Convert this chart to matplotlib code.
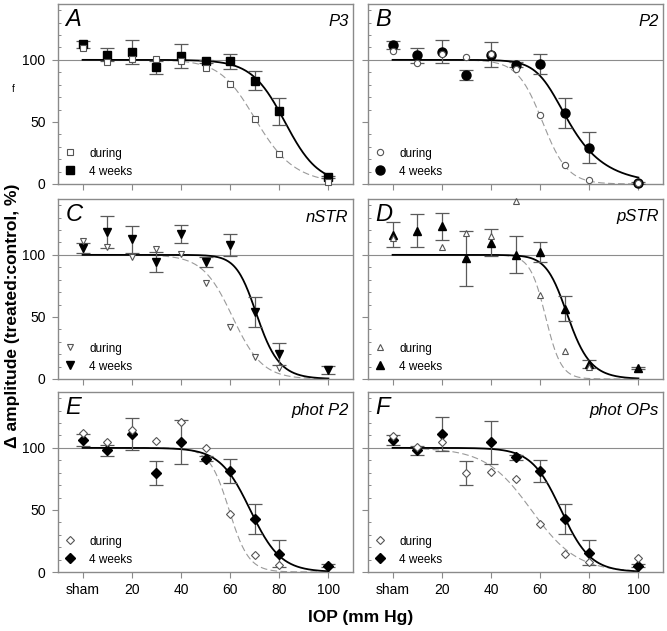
import numpy as np
import matplotlib
matplotlib.use('Agg')
import matplotlib.pyplot as plt
from matplotlib.ticker import MultipleLocator

plt.rcParams['font.family'] = ['Liberation Sans', 'DejaVu Sans']

nan = np.nan

# IOP levels (sham plotted at 0)
iop = [0, 10, 20, 30, 40, 50, 60, 70, 80, 100]
iop_ticks = [0, 20, 40, 60, 80, 100]
iop_labels = ['sham', '20', '40', '60', '80', '100']

# A - P3
p3_during = [109.4, 98.4, 100.8, 100.3, 98.7, 93.8, 80.9, 52.7, 24.2, 1.6]
p3_4wk = [112.4, 104.3, 106.5, 94.0, 103.0, 98.7, 98.7, 83.3, 58.6, 5.6]
p3_4wk_err = [3, 5, 9.5, 5, 9.5, 1, 6, 7.5, 11, 1]

# B - P2
p2_during = [107.5, 97.6, 105.0, 102.4, 104.6, 92.8, 55.2, 15.0, 3.2, 0.8]
p2_4wk = [111.8, 103.8, 106.7, 87.9, 104.0, 96.2, 96.5, 57.4, 29.2, 0.8]
p2_4wk_err = [3, 6, 9, 4, 10, 2, 8, 12, 12.5, 0.5]

# C - nSTR
nstr_during = [111.0, 106.2, 98.1, 104.8, 100.8, 77.4, 42.2, 18.0, 8.6, nan]
nstr_4wk = [105.6, 118.3, 112.4, 94.1, 116.9, 94.1, 108.0, 53.8, 20.2, 7.3]
nstr_4wk_err = [4, 13, 11, 8, 7, 4, 9, 12, 9, 3]

# D - pSTR
pstr_during = [113.4, nan, 106.2, 117.5, 115.0, 143.0, 68.0, 22.3, 10.0, nan]
pstr_4wk = [116.1, 119.6, 123.1, 97.3, 109.7, 100.0, 102.2, 56.5, 12.0, 9.0]
pstr_4wk_err = [10, 13, 11, 22, 11, 15, 8, 10, 3, 1]

# E - phot P2
photp2_during = [111.7, 104.5, 114.4, 105.3, 121.0, 100.0, 46.4, 13.9, 5.9, nan]
photp2_4wk = [106.4, 97.9, 111.2, 79.7, 104.5, 91.2, 81.3, 42.4, 14.7, 5.1]
photp2_4wk_err = [5, 4.5, 13, 9.5, 17.6, 2, 9.5, 12, 10.7, 1]

# F - phot OPs
photops_during = [109.3, 101.0, 105.0, 79.7, 80.5, 75.2, 38.9, 14.7, 7.7, 11.1]
photops_during_err = [nan, nan, nan, 9.5, nan, nan, nan, nan, nan, nan]
photops_4wk = [106.4, 97.9, 111.2, nan, 104.5, 92.5, 81.3, 42.4, 15.7, 5.1]
photops_4wk_err = [4, 4, 14, nan, 17.5, 2, 9, 12, 10, 1]

# sigmoid fit parameters (x50, slope, asymmetry) for during / 4 weeks
p3_fit = [(67.4, 6.76, 0.7), (82.3, 6.8, 1.0)]
p2_fit = [(61.0, 5.12, 1.0), (64.3, 4.83, 0.4)]
nstr_fit = [(61.0, 6.1, 1.0), (69.1, 3.9, 0.7)]
pstr_fit = [(62.25, 3.17, 1.0), (69.3, 4.0, 0.7)]
photp2_fit = [(59.6, 4.0, 1.0), (68.2, 6.2, 1.0)]
photops_fit = [(56.4, 9.3, 1.0), (68.5, 6.0, 1.0)]

panels = [
    ('A', 'P3', 's', p3_during, None, p3_4wk, p3_4wk_err, p3_fit),
    ('B', 'P2', 'o', p2_during, None, p2_4wk, p2_4wk_err, p2_fit),
    ('C', 'nSTR', 'v', nstr_during, None, nstr_4wk, nstr_4wk_err, nstr_fit),
    ('D', 'pSTR', '^', pstr_during, None, pstr_4wk, pstr_4wk_err, pstr_fit),
    ('E', 'phot P2', 'D', photp2_during, None, photp2_4wk, photp2_4wk_err, photp2_fit),
    ('F', 'phot OPs', 'D', photops_during, photops_during_err, photops_4wk, photops_4wk_err, photops_fit),
]

open_size = {'s': 4.0, 'o': 4.5, 'v': 4.5, '^': 4.5, 'D': 3.8}
fill_size = {'s': 5.5, 'o': 6.5, 'v': 6.0, '^': 6.0, 'D': 5.0}


def sigmoid(x, x50, slope, m):
    return 100.0 / (1.0 + np.exp((x - x50) / slope)) ** m


frame = '#8a8a8a'
W, H = 667, 631
fig = plt.figure(figsize=(W / 100, H / 100), dpi=100)

lefts = [58, 368]
tops = [4, 199, 392]
aw, ah = 295, 180

xfit = np.linspace(0, 100, 301)

for i, (letter, name, mk, dur, dur_err, wk, wk_err, fits) in enumerate(panels):
    row, col = i // 2, i % 2
    rect = [lefts[col] / W, 1 - (tops[row] + ah) / H, aw / W, ah / H]
    ax = fig.add_axes(rect)

    ax.axhline(100, color='#8c8c8c', lw=0.8, zorder=1)
    ax.plot(xfit, sigmoid(xfit, *fits[0]), color='#9a9a9a', lw=0.8,
            ls=(0, (6, 3)), zorder=2)
    ax.plot(xfit, sigmoid(xfit, *fits[1]), color='black', lw=1.3, zorder=2)

    ax.errorbar(iop, wk, yerr=wk_err, fmt='none', ecolor='#5a5a5a',
                elinewidth=0.9, capsize=5, capthick=0.9, zorder=3)
    if dur_err is not None:
        ax.errorbar(iop, dur, yerr=dur_err, fmt='none', ecolor='#5a5a5a',
                    elinewidth=0.9, capsize=5, capthick=0.9, zorder=3)

    h_wk, = ax.plot(iop, wk, ls='none', marker=mk, ms=fill_size[mk],
                    mfc='black', mec='black', zorder=4, clip_on=False)
    h_dur, = ax.plot(iop, dur, ls='none', marker=mk, ms=open_size[mk],
                     mfc='white', mec='#555555', mew=0.8, zorder=5,
                     clip_on=False)

    ax.legend([h_dur, h_wk], ['during', '4 weeks'], loc='lower left',
              frameon=False, fontsize=8.5, handlelength=1.0,
              handletextpad=1.1, labelspacing=0.5,
              borderaxespad=0.25, borderpad=0.3)

    ax.set_xlim(-10, 110)
    ax.set_ylim(0, 145)
    ax.set_xticks(iop_ticks)
    ax.set_yticks([0, 50, 100])
    ax.yaxis.set_minor_locator(MultipleLocator(10))
    ax.tick_params(which='major', direction='out', length=4, width=0.8,
                   color=frame, labelsize=10, pad=5)
    ax.tick_params(axis='x', which='major', pad=4)
    ax.tick_params(axis='y', which='minor', direction='in', length=2.5,
                   width=0.7, color=frame)
    for sp in ax.spines.values():
        sp.set_color(frame)
        sp.set_linewidth(1.0)

    if row == 2:
        ax.set_xticklabels(iop_labels)
    else:
        ax.set_xticklabels([])
    if col == 1:
        ax.set_yticklabels([])

    ax.text(0.025, 0.878, letter, transform=ax.transAxes, ha='left',
            va='baseline', fontsize=17, style='italic')
    ax.text(0.985, 0.875, name, transform=ax.transAxes, ha='right',
            va='baseline', fontsize=12, style='italic')

fig.text(0.019, 0.499, '\u0394 amplitude (treated:control, %)', rotation=90,
         ha='center', va='center', fontsize=12.5, fontweight='bold')
fig.text(0.54, 0.022, 'IOP (mm Hg)', ha='center', va='center',
         fontsize=12.5, fontweight='bold')
fig.text(13 / W, 1 - 89 / H, 'f', ha='center', va='center', fontsize=7)

fig.savefig('out.png', dpi=100)
